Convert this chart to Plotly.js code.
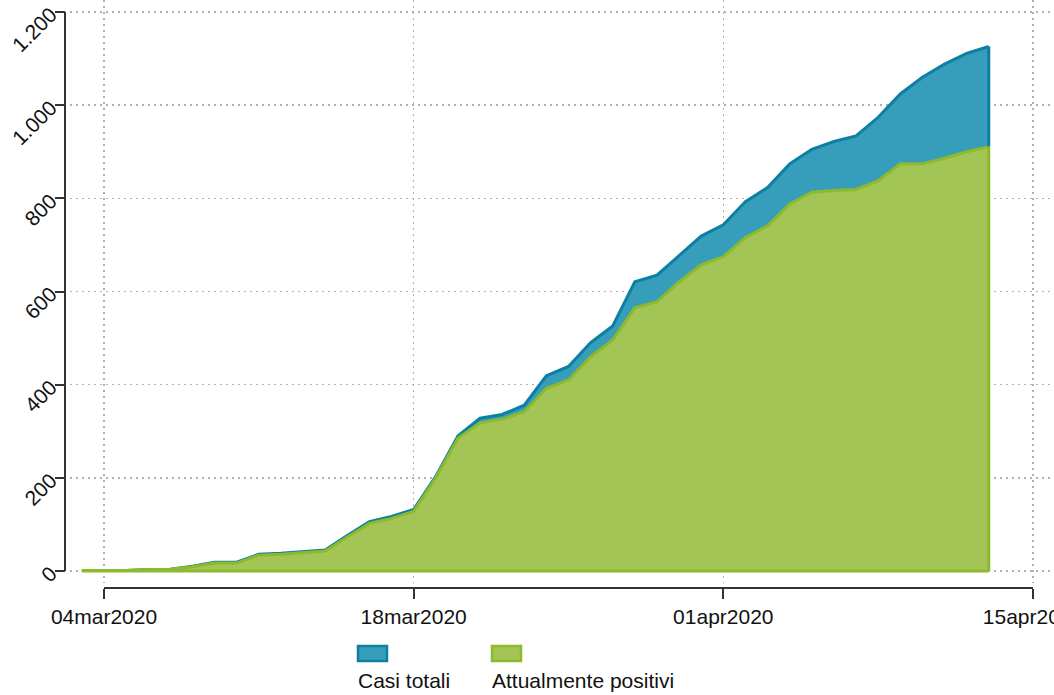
<!DOCTYPE html>
<html>
<head>
<meta charset="utf-8">
<script src="https://cdn.plot.ly/plotly-3.0.1.min.js"></script>
<style>html,body{margin:0;padding:0;background:#fff;}#chart{width:1054px;height:695px;}</style>
</head>
<body>
<div id="chart"></div>
<script>
const dates = ['2020-03-03','2020-03-04','2020-03-05','2020-03-06','2020-03-07','2020-03-08','2020-03-09','2020-03-10','2020-03-11','2020-03-12','2020-03-13','2020-03-14','2020-03-15','2020-03-16','2020-03-17','2020-03-18','2020-03-19','2020-03-20','2020-03-21','2020-03-22','2020-03-23','2020-03-24','2020-03-25','2020-03-26','2020-03-27','2020-03-28','2020-03-29','2020-03-30','2020-03-31','2020-04-01','2020-04-02','2020-04-03','2020-04-04','2020-04-05','2020-04-06','2020-04-07','2020-04-08','2020-04-09','2020-04-10','2020-04-11','2020-04-12','2020-04-13'];
const casiTotali = [1,1,1,3,4,10,19,19,36,38,41,45,76,106,117,132,203,290,328,336,356,419,439,490,526,621,635,678,719,743,793,823,874,905,922,934,974,1024,1060,1088,1111,1126];
const attualmentePositivi = [1,1,1,3,4,9,17,17,34,36,39,43,73,102,113,128,200,285,318,326,342,392,410,460,496,565,578,621,657,675,716,741,788,813,817,819,838,874,874,886,900,911];
const seriesNames = ['Casi totali','Attualmente positivi'];
const xTickVals = ['2020-03-04','2020-03-18','2020-04-01','2020-04-15'];
const xTickText = ['04mar2020','18mar2020','01apr2020','15apr2020'];
const yTickVals = [0,200,400,600,800,1000,1200];

const blueFill = '#369dba', blueLine = '#0d7fa2';
const greenFill = '#a3c555', greenLine = '#8cba2c';
const font = 'Liberation Sans, Arial, sans-serif';
const gridDash = '2px,4px';

// pixel geometry
const W = 1054, H = 695;
const mL = 65, mB = 107, mR = 0, mT = 0;
const paperW = W - mL - mR, paperH = H - mT - mB;
const DAY = 86400000;
const pxPerDay = (1033 - 104) / 42;
const t0 = Date.parse('2020-03-04T00:00:00Z');
const xStart = t0 + ((70 - 104) / pxPerDay) * DAY;
const xEnd = t0 + ((1054 - 104) / pxPerDay) * DAY;
const pxPerUnit = (571 - 12) / 1200;
const yTop = 1200 + 12 / pxPerUnit;
const yBot = -(583 - 571) / pxPerUnit;
function iso(ms){ return new Date(ms).toISOString().replace('Z',''); }

const traces = [
  {x: dates, y: casiTotali, name: seriesNames[0], type: 'scatter', mode: 'lines', fill: 'tozeroy',
   fillcolor: blueFill, line: {color: blueLine, width: 3}, hoverinfo: 'x+y+name'},
  {x: dates, y: attualmentePositivi, name: seriesNames[1], type: 'scatter', mode: 'lines', fill: 'tozeroy',
   fillcolor: greenFill, line: {color: greenLine, width: 3}, hoverinfo: 'x+y+name'}
];

const last = dates.length - 1;
const px2paperX = px => (px - mL) / paperW;
const px2paperY = py => (H - mB - py) / paperH;

const shapes = [
  {type:'line', xref:'paper', yref:'y', x0:0, x1:0, y0:yTickVals[0], y1:yTickVals[yTickVals.length-1], line:{color:'#333', width:2}},
  {type:'line', xref:'x', yref:'paper', x0:xTickVals[0], x1:xTickVals[xTickVals.length-1], y0:0, y1:0, line:{color:'#333', width:2}},
  {type:'line', xref:'x', yref:'y', x0:dates[0], x1:dates[last], y0:0, y1:0, line:{color:greenLine, width:3}},
  {type:'line', xref:'x', yref:'y', x0:dates[last], x1:dates[last], y0:attualmentePositivi[last], y1:casiTotali[last], line:{color:blueLine, width:3}},
  {type:'line', xref:'x', yref:'y', x0:dates[last], x1:dates[last], y0:0, y1:attualmentePositivi[last], line:{color:greenLine, width:3}},
  {type:'rect', xref:'paper', yref:'paper', x0:px2paperX(358), x1:px2paperX(387), y0:px2paperY(646), y1:px2paperY(661), fillcolor:blueFill, line:{color:blueLine, width:2.5}},
  {type:'rect', xref:'paper', yref:'paper', x0:px2paperX(492), x1:px2paperX(521), y0:px2paperY(646), y1:px2paperY(661), fillcolor:greenFill, line:{color:greenLine, width:2.5}}
];

const annotations = [
  {xref:'paper', yref:'paper', x:px2paperX(356), y:px2paperY(680), text:seriesNames[0], showarrow:false, xanchor:'left', yanchor:'middle', font:{family:font, size:21, color:'#111'}},
  {xref:'paper', yref:'paper', x:px2paperX(490), y:px2paperY(680), text:seriesNames[1], showarrow:false, xanchor:'left', yanchor:'middle', font:{family:font, size:21, color:'#111'}}
];

const layout = {
  width: W, height: H,
  margin: {l: mL, r: mR, t: mT, b: mB, pad: 0},
  paper_bgcolor: '#fff', plot_bgcolor: '#fff',
  separators: ',.',
  showlegend: false,
  font: {family: font, size: 21, color: '#111'},
  xaxis: {
    type: 'date', range: [iso(xStart), iso(xEnd)],
    domain: [5 / paperW, 1], anchor: 'free', position: 0,
    tickvals: xTickVals, ticktext: xTickText,
    ticks: 'outside', ticklen: 10, tickwidth: 2, tickcolor: '#333',
    ticklabeloverflow: 'allow',
    showline: false, zeroline: false,
    showgrid: true, gridcolor: '#b0b0b0', gridwidth: 1.5, griddash: gridDash,
    tickfont: {family: font, size: 21, color: '#111'}
  },
  yaxis: {
    range: [yBot, yTop],
    domain: [5 / paperH, 1], anchor: 'free', position: 0,
    tickvals: yTickVals, tickformat: ',d', tickangle: -45,
    ticks: 'outside', ticklen: 10, tickwidth: 2, tickcolor: '#333',
    showline: false, zeroline: false,
    showgrid: true, gridcolor: '#b0b0b0', gridwidth: 1.5, griddash: gridDash,
    tickfont: {family: font, size: 21, color: '#111'}
  },
  shapes: shapes,
  annotations: annotations
};

Plotly.newPlot('chart', traces, layout, {displayModeBar: false, staticPlot: true});
</script>
</body>
</html>
